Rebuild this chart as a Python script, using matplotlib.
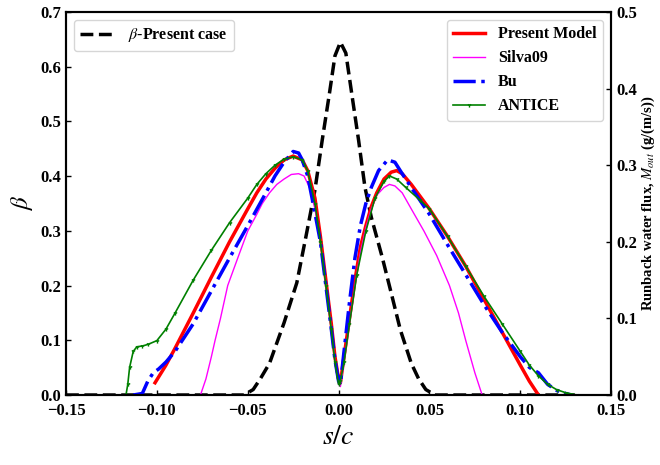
import matplotlib
matplotlib.use("Agg")
import matplotlib.pyplot as plt

plt.rcParams['font.family'] = ['Liberation Serif', 'DejaVu Serif']
plt.rcParams['mathtext.fontset'] = 'stix'

# beta - present case (left axis)
beta_x = [-0.15, -0.052, -0.047, -0.043, -0.038, -0.030, -0.023, -0.018, -0.013, -0.009, -0.005,
          -0.002, 0.001, 0.004, 0.0075, 0.011, 0.0145, 0.018, 0.024, 0.029, 0.034, 0.040,
          0.044, 0.048, 0.053, 0.13]
beta_y = [0, 0, 0.01, 0.03, 0.058, 0.132, 0.205, 0.289, 0.375, 0.466, 0.552,
          0.62, 0.645, 0.625, 0.545, 0.466, 0.38, 0.325, 0.252, 0.186, 0.119, 0.058,
          0.03, 0.01, 0, 0]

# runback water flux (right axis)
present_x = [-0.101, -0.095, -0.090, -0.080, -0.070, -0.060, -0.050, -0.045, -0.040, -0.035,
             -0.030, -0.025, -0.020, -0.017, -0.013, -0.010, -0.007, -0.004, -0.002, 0.000,
             0.001, 0.003, 0.006, 0.009, 0.012, 0.015, 0.018, 0.021, 0.025, 0.029, 0.032,
             0.035, 0.040, 0.050, 0.060, 0.070, 0.080, 0.090, 0.100, 0.105, 0.110]
present_y = [0.016, 0.039, 0.061, 0.107, 0.154, 0.200, 0.243, 0.264, 0.282, 0.296,
             0.307, 0.312, 0.307, 0.293, 0.257, 0.207, 0.150, 0.093, 0.050, 0.021,
             0.016, 0.050, 0.100, 0.150, 0.193, 0.221, 0.246, 0.264, 0.282, 0.291, 0.293,
             0.289, 0.275, 0.243, 0.207, 0.168, 0.125, 0.082, 0.039, 0.018, 0.0]

silva_x = [-0.076, -0.073, -0.070, -0.068, -0.065, -0.061, -0.055, -0.050, -0.045, -0.042,
           -0.038, -0.034, -0.030, -0.026, -0.022, -0.019, -0.016, -0.013, -0.010, -0.007,
           -0.004, -0.002, 0.000, 0.001, 0.003, 0.006, 0.009, 0.012, 0.015, 0.018, 0.021,
           0.025, 0.028, 0.031, 0.035, 0.040, 0.047, 0.054, 0.061, 0.066, 0.070, 0.075, 0.079]
silva_y = [0.0, 0.021, 0.050, 0.071, 0.100, 0.143, 0.182, 0.214, 0.236, 0.250,
           0.264, 0.275, 0.282, 0.288, 0.289, 0.286, 0.271, 0.243, 0.200, 0.143,
           0.086, 0.043, 0.014, 0.011, 0.043, 0.093, 0.143, 0.186, 0.218, 0.243, 0.261,
           0.271, 0.275, 0.273, 0.264, 0.243, 0.214, 0.182, 0.143, 0.107, 0.071, 0.029, 0.0]

bu_x = [-0.113, -0.108, -0.105, -0.102, -0.099, -0.095, -0.090, -0.080, -0.070, -0.060,
        -0.050, -0.040, -0.035, -0.030, -0.025, -0.022, -0.020, -0.017, -0.014, -0.010,
        -0.007, -0.004, -0.002, 0.000, 0.001, 0.003, 0.006, 0.009, 0.012, 0.015, 0.018,
        0.022, 0.027, 0.031, 0.035, 0.040, 0.050, 0.060, 0.070, 0.080, 0.090, 0.100,
        0.105, 0.110, 0.115, 0.120, 0.125, 0.128]
bu_y = [0.0, 0.002, 0.018, 0.029, 0.034, 0.043, 0.057, 0.093, 0.136, 0.179,
        0.221, 0.264, 0.286, 0.304, 0.318, 0.316, 0.307, 0.286, 0.250, 0.200,
        0.143, 0.086, 0.046, 0.018, 0.014, 0.057, 0.121, 0.179, 0.221, 0.250, 0.271,
        0.293, 0.307, 0.304, 0.289, 0.271, 0.236, 0.196, 0.157, 0.118, 0.082, 0.050,
        0.036, 0.029, 0.014, 0.006, 0.002, 0.0]

antice_x = [-0.117, -0.116, -0.115, -0.113, -0.111, -0.108, -0.105, -0.100, -0.095, -0.090,
            -0.080, -0.070, -0.060, -0.050, -0.045, -0.040, -0.035, -0.030, -0.025, -0.020,
            -0.017, -0.013, -0.010, -0.007, -0.004, -0.002, 0.000, 0.001, 0.003, 0.006,
            0.010, 0.015, 0.020, 0.025, 0.028, 0.032, 0.037, 0.045, 0.050, 0.060, 0.070,
            0.080, 0.090, 0.100, 0.105, 0.110, 0.115, 0.120, 0.125, 0.131]
antice_y = [0.0, 0.014, 0.036, 0.057, 0.063, 0.064, 0.066, 0.071, 0.086, 0.107,
            0.150, 0.189, 0.225, 0.257, 0.275, 0.289, 0.300, 0.308, 0.311, 0.307,
            0.293, 0.250, 0.200, 0.143, 0.086, 0.043, 0.014, 0.018, 0.043, 0.093,
            0.157, 0.214, 0.257, 0.279, 0.286, 0.282, 0.271, 0.254, 0.243, 0.207, 0.168,
            0.129, 0.093, 0.057, 0.039, 0.025, 0.014, 0.007, 0.003, 0.0]

fig = plt.figure(figsize=(6.6, 4.65), dpi=100)
ax = fig.add_axes([0.1, 0.1505, 0.826, 0.8235])
ax2 = ax.twinx()

ax.plot(beta_x, beta_y, 'k--', lw=2.5, label=r'$\beta$-Present case')
ax2.plot(present_x, present_y, color='red', lw=2.5, label='Present Model')
ax2.plot(silva_x, silva_y, color='magenta', lw=1.0, label='Silva09')
ax2.plot(bu_x, bu_y, color='blue', lw=2.5, ls='-.', label='Bu')
ax2.plot(antice_x, antice_y, color='green', lw=1.2, marker='1', ms=3, label='ANTICE')

ax.set_xlim(-0.15, 0.15)
ax.set_ylim(0, 0.7)
ax2.set_ylim(0, 0.5)
ax.set_xticks([-0.15, -0.10, -0.05, 0.00, 0.05, 0.10, 0.15])
ax.set_xticklabels(['\u22120.15', '\u22120.10', '\u22120.05', '0.00', '0.05', '0.10', '0.15'])
ax.set_yticks([0, 0.1, 0.2, 0.3, 0.4, 0.5, 0.6, 0.7])
ax2.set_yticks([0, 0.1, 0.2, 0.3, 0.4, 0.5])

for a in (ax, ax2):
    a.tick_params(direction='in', labelsize=12, width=1)
    for lab in a.get_xticklabels() + a.get_yticklabels():
        lab.set_fontweight('bold')
    for sp in a.spines.values():
        sp.set_linewidth(1.5)
ax.tick_params(axis='x', pad=6)

ax.set_xlabel('$s/c$', fontsize=20, labelpad=4)
ax.set_ylabel(r'$\beta$', fontsize=18, labelpad=4)
ax2.set_ylabel(r'Runback water flux, $M_{out}$ (g/(m/s))', fontsize=10.5,
               fontweight='bold', labelpad=2)

leg1 = ax.legend(loc='upper left', prop={'weight': 'bold', 'size': 11.5}, handlelength=2.2)
leg2 = ax2.legend(loc='upper right', prop={'weight': 'bold', 'size': 11.5}, handlelength=2.0)

fig.savefig('out.png', dpi=100)
